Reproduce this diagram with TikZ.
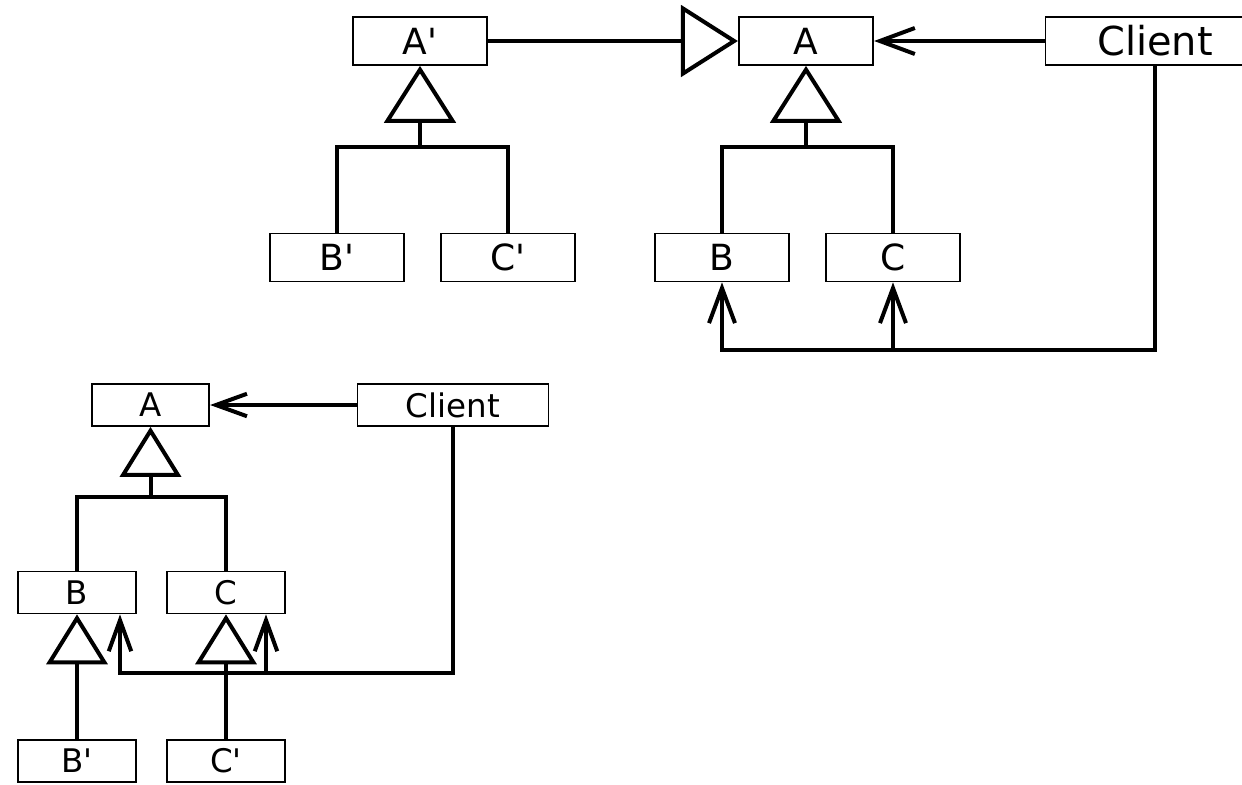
\documentclass[tikz,border=0pt]{standalone}
\usepackage{fontspec}
\setmainfont{DejaVu Sans}
\usetikzlibrary{arrows.meta}

\begin{document}
\begin{tikzpicture}[x=0.02cm,y=-0.02cm]
\tikzstyle{every node}+=[inner sep=0pt]
\tikzstyle{bigbox}=[draw,line width=0.035cm,minimum width=2.69cm,minimum height=0.96cm,font=\fontsize{20.5}{24}\selectfont]
\tikzstyle{smallbox}=[draw,line width=0.035cm,minimum width=2.35cm,minimum height=0.84cm,font=\fontsize{18.5}{22}\selectfont]
\tikzstyle{wire}=[line width=0.08cm]
\tikzstyle{gen}=[wire,-{Triangle[open,length=1.14cm,width=1.43cm]}]
\tikzstyle{smallgen}=[wire,-{Triangle[open,length=1.0cm,width=1.22cm]}]
\tikzstyle{uses}=[wire,-{Straight Barb[length=0.7cm,width=0.52cm]}]
\tikzstyle{smalluses}=[wire,-{Straight Barb[length=0.62cm,width=0.45cm]}]
\clip (0,0) rectangle (1242,785);
\node[bigbox] (Ap) at (420,41) {A\textquotesingle};
\node[bigbox] (A) at (806,41) {A};
\node[bigbox,minimum width=4.38cm,font=\fontsize{22.7}{26}\selectfont] (client) at (1155,41) {Client};
\node[bigbox] (Bp) at (337,257.5) {B\textquotesingle};
\node[bigbox] (Cp) at (508,257.5) {C\textquotesingle};
\node[bigbox] (B) at (722,257.5) {B};
\node[bigbox] (C) at (893,257.5) {C};
\coordinate (jAp) at (420,147);
\coordinate (jA) at (806,147);
\coordinate (dB) at (722,350);
\coordinate (dC) at (893,350);
\draw[gen] (Ap) -- (A);
\draw[uses] (client) -- (A);
\draw[gen] (jAp) -- (Ap);
\draw[wire] (Bp.north) |- (jAp) -| (Cp.north);
\draw[gen] (jA) -- (A);
\draw[wire] (B.north) |- (jA) -| (C.north);
\draw[uses] (client.south) |- (dB) -- (B.south);
\draw[uses] (dC) -- (C.south);
\node[smallbox] (A2) at (150.5,405) {A};
\node[smallbox,minimum width=3.82cm] (client2) at (453,405) {Client};
\node[smallbox] (B2) at (77,592.5) {B};
\node[smallbox] (C2) at (226,592.5) {C};
\node[smallbox] (Bp2) at (77,761) {B\textquotesingle};
\node[smallbox] (Cp2) at (226,761) {C\textquotesingle};
\coordinate (jA2) at (150.5,497);
\coordinate (eB) at (120,673);
\coordinate (eC) at (266,673);
\draw[smalluses] (client2) -- (A2);
\draw[smallgen] (jA2) -- (A2);
\draw[wire] (B2.north) |- (jA2) -| (C2.north);
\draw[smallgen] (Bp2) -- (B2);
\draw[smallgen] (Cp2) -- (C2);
\draw[smalluses] (client2.south) |- (eB) -- (eB |- B2.south);
\draw[smalluses] (eC) -- (eC |- C2.south);
\end{tikzpicture}
\end{document}
